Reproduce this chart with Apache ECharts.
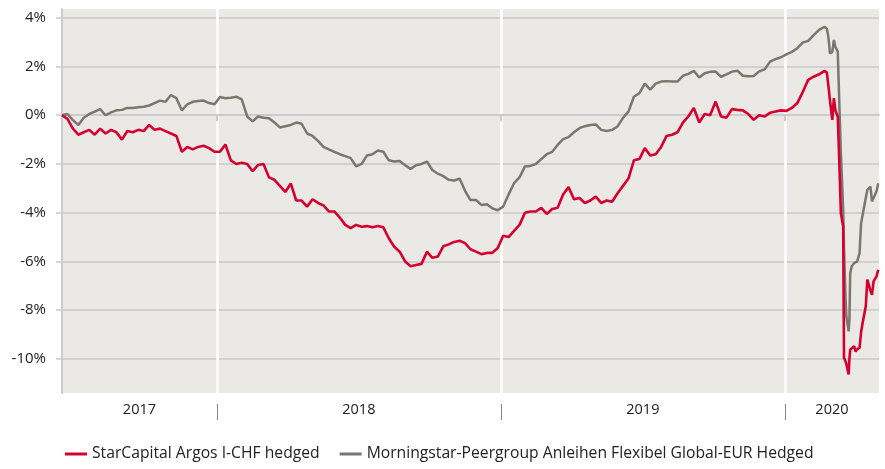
<!DOCTYPE html>
<html><head><meta charset="utf-8">
<script src="https://cdn.jsdelivr.net/npm/echarts@6/dist/echarts.min.js"></script>
<style>html,body{margin:0;padding:0;background:#fff}#c{width:885px;height:469px}</style>
</head><body><div id="c"></div>
<script>
const dates = [
'2017-06-16','2017-06-23','2017-06-30','2017-07-07','2017-07-14','2017-07-21','2017-07-28','2017-08-04','2017-08-11','2017-08-18',
'2017-08-25','2017-09-01','2017-09-08','2017-09-15','2017-09-22','2017-09-29','2017-10-06','2017-10-13','2017-10-20','2017-10-27',
'2017-11-03','2017-11-10','2017-11-17','2017-11-24','2017-12-01','2017-12-08','2017-12-15','2017-12-22','2017-12-29',
'2018-01-05','2018-01-12','2018-01-19','2018-01-26','2018-02-02','2018-02-09','2018-02-16','2018-02-23','2018-03-02','2018-03-09',
'2018-03-16','2018-03-23','2018-03-30','2018-04-06','2018-04-13','2018-04-20','2018-04-27','2018-05-04','2018-05-11','2018-05-18',
'2018-05-25','2018-06-01','2018-06-08','2018-06-15','2018-06-22','2018-06-29','2018-07-06','2018-07-13','2018-07-20','2018-07-27',
'2018-08-03','2018-08-10','2018-08-17','2018-08-24','2018-08-31','2018-09-07','2018-09-14','2018-09-21','2018-09-28','2018-10-05',
'2018-10-12','2018-10-19','2018-10-26','2018-11-02','2018-11-09','2018-11-16','2018-11-23','2018-11-30','2018-12-07','2018-12-14',
'2018-12-21','2018-12-28',
'2019-01-04','2019-01-11','2019-01-18','2019-01-25','2019-02-01','2019-02-08','2019-02-15','2019-02-22','2019-03-01','2019-03-08',
'2019-03-15','2019-03-22','2019-03-29','2019-04-05','2019-04-12','2019-04-19','2019-04-26','2019-05-03','2019-05-10','2019-05-17',
'2019-05-24','2019-05-31','2019-06-07','2019-06-14','2019-06-21','2019-06-28','2019-07-05','2019-07-12','2019-07-19','2019-07-26',
'2019-08-02','2019-08-09','2019-08-16','2019-08-23','2019-08-30','2019-09-06','2019-09-13','2019-09-20','2019-09-27','2019-10-04',
'2019-10-11','2019-10-18','2019-10-25','2019-11-01','2019-11-08','2019-11-15','2019-11-22','2019-11-29','2019-12-06','2019-12-13',
'2019-12-20','2019-12-27',
'2020-01-03','2020-01-10','2020-01-17','2020-01-24','2020-01-31','2020-02-07','2020-02-14','2020-02-21',
'2020-02-24','2020-02-26','2020-02-28','2020-03-02','2020-03-04','2020-03-06','2020-03-09','2020-03-11','2020-03-12','2020-03-13',
'2020-03-16','2020-03-17','2020-03-18','2020-03-19','2020-03-20','2020-03-23','2020-03-24','2020-03-25','2020-03-27','2020-03-30',
'2020-04-01','2020-04-03','2020-04-06','2020-04-08','2020-04-10','2020-04-14','2020-04-16','2020-04-20','2020-04-22','2020-04-24',
'2020-04-28','2020-04-30'
];

const starCapital = [
0,-0.15,-0.55,-0.8,-0.7,-0.6,-0.8,-0.55,-0.75,-0.6,
-0.7,-1.0,-0.65,-0.7,-0.6,-0.65,-0.4,-0.6,-0.55,-0.65,
-0.75,-0.85,-1.5,-1.3,-1.4,-1.3,-1.25,-1.35,-1.5,
-1.5,-1.2,-1.85,-2.0,-1.95,-2.0,-2.3,-2.04,-2.0,-2.55,
-2.65,-2.9,-3.15,-2.8,-3.5,-3.5,-3.75,-3.45,-3.6,-3.7,
-3.95,-3.95,-4.2,-4.5,-4.63,-4.5,-4.58,-4.55,-4.6,-4.55,
-4.6,-5.05,-5.4,-5.6,-6.0,-6.2,-6.15,-6.1,-5.6,-5.85,
-5.8,-5.38,-5.3,-5.2,-5.15,-5.25,-5.5,-5.6,-5.7,-5.65,-5.65,-5.45,
-4.95,-5.0,-4.75,-4.5,-4.0,-3.95,-3.95,-3.8,-4.05,-3.85,
-3.8,-3.25,-2.95,-3.45,-3.4,-3.6,-3.5,-3.34,-3.6,-3.5,
-3.55,-3.2,-2.9,-2.6,-1.85,-1.8,-1.35,-1.65,-1.6,-1.3,
-0.85,-0.8,-0.7,-0.3,-0.05,0.3,-0.3,0.05,0.0,0.56,
-0.05,-0.1,0.25,0.22,0.2,0.05,-0.19,0.0,-0.05,0.1,
0.15,0.2,0.18,0.3,0.5,0.95,1.45,1.58,1.68,1.82,
1.75,1.2,0.6,-0.19,0.7,0.2,-0.05,-1.97,-3.0,-4.02,
-4.57,-9.96,-10.0,-10.1,-10.2,-10.64,-10.0,-9.62,-9.6,-9.48,
-9.7,-9.6,-9.55,-8.9,-8.52,-7.84,-6.75,-7.2,-7.37,-6.82,
-6.6,-6.34
];

const peergroup = [
0,0.05,-0.2,-0.4,-0.1,0.05,0.15,0.25,0.0,0.12,
0.2,0.22,0.3,0.3,0.33,0.35,0.4,0.5,0.6,0.55,
0.83,0.7,0.2,0.45,0.55,0.58,0.6,0.5,0.45,
0.75,0.7,0.72,0.76,0.65,-0.05,-0.25,-0.05,-0.1,-0.12,
-0.3,-0.5,-0.45,-0.4,-0.3,-0.35,-0.75,-0.85,-1.05,-1.3,
-1.4,-1.5,-1.6,-1.68,-1.76,-2.1,-2.0,-1.65,-1.6,-1.45,
-1.5,-1.85,-1.9,-1.88,-2.05,-2.2,-2.05,-2.0,-1.9,-2.25,
-2.4,-2.5,-2.65,-2.68,-2.6,-3.1,-3.48,-3.48,-3.68,-3.65,-3.82,-3.9,
-3.75,-3.25,-2.79,-2.55,-2.1,-2.08,-2.0,-1.8,-1.6,-1.5,
-1.22,-0.98,-0.9,-0.7,-0.53,-0.45,-0.4,-0.38,-0.6,-0.65,
-0.6,-0.46,-0.11,0.15,0.76,0.9,1.3,1.05,1.3,1.38,
1.4,1.38,1.38,1.62,1.7,1.82,1.55,1.72,1.78,1.79,
1.58,1.68,1.79,1.83,1.62,1.6,1.61,1.8,1.88,2.2,
2.3,2.38,2.5,2.6,2.75,2.98,3.05,3.29,3.5,3.63,
3.55,3.2,2.54,2.6,3.09,2.8,2.61,0.5,-0.5,-1.55,
-3.88,-5.38,-6.5,-7.5,-8.25,-8.87,-8.4,-6.48,-6.2,-6.07,
-6.1,-6.0,-5.66,-4.43,-4.4,-3.4,-3.06,-2.93,-3.54,-3.4,
-3.1,-2.79
];

const seriesNames = ['StarCapital Argos I-CHF hedged', 'Morningstar-Peergroup Anleihen Flexibel Global-EUR Hedged'];
const yTicks = [-10, -8, -6, -4, -2, 0, 2, 4];
const yMin = -11.4, yMax = 4.36;
const xMin = '2017-06-16', xMax = '2020-05-01';
const yearBounds = ['2018-01-01', '2019-01-01', '2020-01-01'];
const yearLabels = ['2017', '2018', '2019', '2020'];

const ts = s => Date.UTC(+s.slice(0, 4), +s.slice(5, 7) - 1, +s.slice(8, 10));
const edges = [ts(xMin)].concat(yearBounds.map(ts), [ts(xMax)]);
const mids = [];
for (let i = 0; i < edges.length - 1; i++) mids.push((edges[i] + edges[i + 1]) / 2);
const boundTs = yearBounds.map(ts);

const FONT = 'Open Sans';
const TXT = '#222222';
const chart = echarts.init(document.getElementById('c'), null, {renderer: 'canvas'});
const baseX = {type: 'value', position: 'bottom', min: ts(xMin), max: ts(xMax), gridIndex: 0, scale: false};
chart.setOption({
  animation: false,
  textStyle: {fontFamily: FONT},
  grid: {left: 62, right: 6, top: 9, bottom: 76, show: true, backgroundColor: '#ebe9e6', borderWidth: 0, outerBoundsMode: 'none'},
  legend: {
    bottom: 2, left: 60, itemWidth: 22, itemHeight: 3, itemGap: 20, icon: 'rect',
    textStyle: {fontSize: 15.7, color: TXT, fontFamily: FONT},
    data: seriesNames
  },
  xAxis: [
    Object.assign({}, baseX, {
      z: 1,
      axisLine: {show: true, lineStyle: {color: '#cccccc', width: 2}},
      axisTick: {show: true, customValues: boundTs, length: 6, lineStyle: {color: '#cccccc', width: 2}},
      axisLabel: {show: false},
      splitLine: {show: true, lineStyle: {color: '#ffffff', width: 2.5}}
    }),
    Object.assign({}, baseX, {
      axisLine: {show: false},
      axisTick: {show: false},
      splitLine: {show: false},
      axisLabel: {
        show: true, customValues: mids, margin: 9, fontSize: 14.5, color: TXT, fontFamily: FONT,
        formatter: v => { let best = 0; mids.forEach((m, i) => { if (Math.abs(m - v) < Math.abs(mids[best] - v)) best = i; }); return yearLabels[best]; }
      }
    }),
    Object.assign({}, baseX, {
      offset: 11,
      axisLine: {show: false},
      axisTick: {show: true, customValues: boundTs, length: 16, lineStyle: {color: '#888888', width: 1}},
      axisLabel: {show: false},
      splitLine: {show: false}
    })
  ],
  yAxis: {
    type: 'value', min: yMin, max: yMax,
    axisLine: {show: true, lineStyle: {color: '#cccccc', width: 2}},
    axisTick: {show: true, customValues: yTicks, length: 6, lineStyle: {color: '#cccccc', width: 1.5}},
    axisLabel: {customValues: yTicks, margin: 16, fontSize: 15, color: TXT, fontFamily: FONT, formatter: v => v + '%'},
    splitLine: {show: true, lineStyle: {color: '#c9c9c9', width: 1.5}}
  },
  series: [
    {name: seriesNames[1], type: 'line', xAxisIndex: 0, showSymbol: false, symbol: 'none',
     lineStyle: {color: '#7c766f', width: 2.5}, itemStyle: {color: '#7c766f'}, z: 3,
     data: dates.map((d, i) => [ts(d), peergroup[i]])},
    {name: seriesNames[0], type: 'line', xAxisIndex: 0, showSymbol: false, symbol: 'none',
     lineStyle: {color: '#d6002f', width: 2.6}, itemStyle: {color: '#d6002f'}, z: 4,
     data: dates.map((d, i) => [ts(d), starCapital[i]])}
  ]
});
</script></body></html>
